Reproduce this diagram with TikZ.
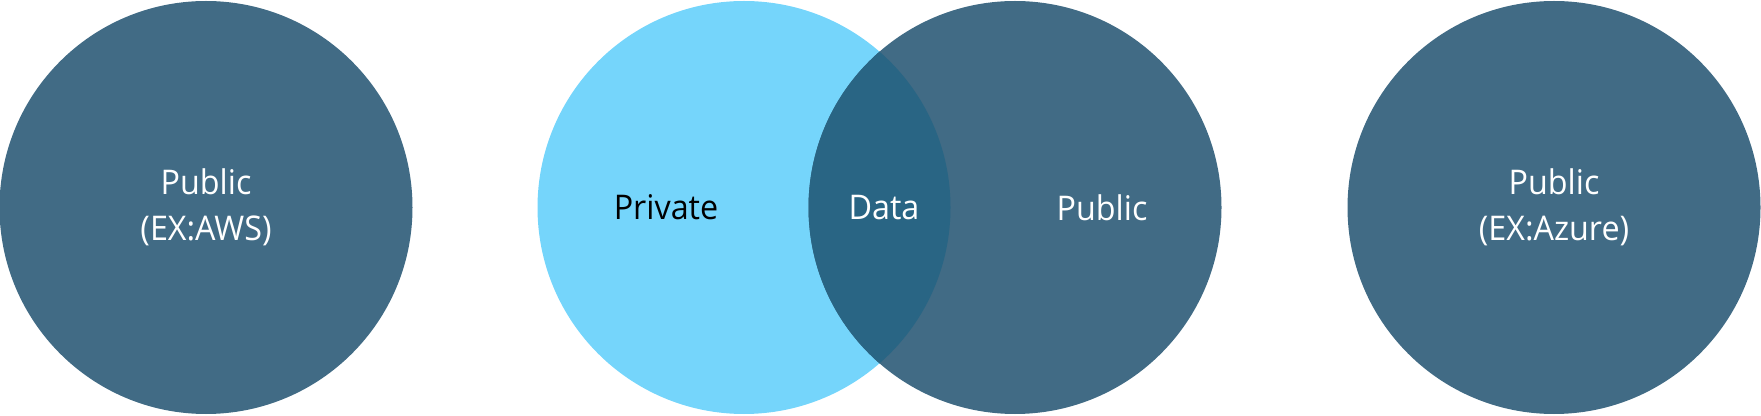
\documentclass[tikz,border=0pt]{standalone}
\usepackage{fontspec}
\setmainfont{Open Sans}[FakeStretch=0.95]
\usetikzlibrary{positioning}

\definecolor{pubblue}{HTML}{416B85}
\definecolor{privblue}{HTML}{75D5FB}
\definecolor{datablue}{HTML}{296584}

\tikzset{
  cloud/.style={circle, minimum size=413pt, inner sep=0pt, draw=none},
  pubcloud/.style={cloud, fill=pubblue, text=white, align=center,
    font=\fontsize{34}{46}\selectfont},
  label/.style={inner sep=0pt, font=\fontsize{34}{46}\selectfont},
}

\begin{document}
\begin{tikzpicture}[x=1pt, y=1pt]
  \useasboundingbox (0,0) rectangle (1761,415);
  \node[pubcloud] (aws) at (206,207.5) {Public\\(EX:AWS)}; %
  \node[cloud, fill=privblue] (priv) at (744,207.5) {}; %
  \node[pubcloud] (pub) at (1015,207.5) {}; %
  \node[pubcloud] (azure) at (1554,207.5) {Public\\(EX:Azure)}; %
  % overlap of private and public
  \begin{scope}
    \clip (priv.center) circle (206.5);
    \fill[datablue] (pub.center) circle (206.5);
  \end{scope}
  \node[label, text=black] (privtxt) at (666,207.5) {Private}; %
  \node[label, text=white] (datatxt) at (884,207.5) {Data}; %
  \node[label, text=white] (pubtxt) at (1102,207.5) {Public}; %
\end{tikzpicture}
\end{document}
